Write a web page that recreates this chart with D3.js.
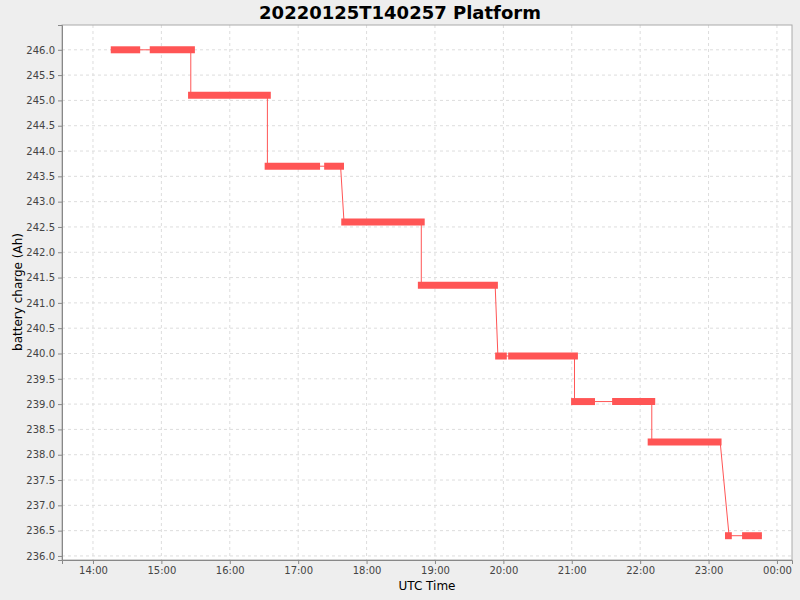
<!DOCTYPE html>
<html><head><meta charset="utf-8">
<script src="https://cdn.jsdelivr.net/npm/d3@7"></script>
<style>body{margin:0;background:#eeeeee}svg{display:block;font-family:"DejaVu Sans",sans-serif}</style>
</head><body><svg id="c" width="800" height="600"></svg>
<script>
// thick segments: start hour, end hour, value (Ah)
const segStart = [14.26,14.83,15.39,16.51,17.38,17.63,18.75,19.88,20.07,20.99,21.59,22.11,23.24,23.49];
const segEnd   = [14.69,15.49,16.60,17.32,17.67,18.85,19.92,20.05,21.09,21.34,22.22,23.19,23.34,23.78];
const segValue = [246.0,246.0,245.1,243.7,243.7,242.6,241.35,239.95,239.95,239.05,239.05,238.25,236.4,236.4];
// thin connecting line
const lineHours = [14.26,15.43,15.43,16.55,16.55,17.62,17.67,18.8,18.8,19.88,19.92,21.04,21.04,22.17,22.17,23.17,23.3,23.78];
const lineValues = [246,246,245.1,245.1,243.7,243.7,242.6,242.6,241.35,241.35,239.95,239.95,239.05,239.05,238.25,238.25,236.4,236.4];
const xTickHours = [14,15,16,17,18,19,20,21,22,23,24];
const xTickLabels = ["14:00","15:00","16:00","17:00","18:00","19:00","20:00","21:00","22:00","23:00","00:00"];
const yTicks = d3.range(236,246.01,0.5);

const svg = d3.select("#c");
const L=62,R=792,T=25,B=560;
const x = d3.scaleLinear().domain([13.547,24.22]).range([L,R]);
const y = d3.scaleLinear().domain([235.92,246.49]).range([B,T]);
svg.append("rect").attr("x",L).attr("y",T).attr("width",R-L).attr("height",B-T).attr("fill","#fff");
const g = svg.append("g");
g.selectAll(".gx").data(xTickHours).join("line").attr("x1",d=>x(d)).attr("x2",d=>x(d)).attr("y1",T).attr("y2",B)
 .attr("stroke","#ddd").attr("stroke-dasharray","3,3");
g.selectAll(".gy").data(yTicks).join("line").attr("y1",d=>y(d)).attr("y2",d=>y(d)).attr("x1",L).attr("x2",R)
 .attr("stroke","#ddd").attr("stroke-dasharray","3,3");
svg.append("rect").attr("x",L).attr("y",T).attr("width",R-L).attr("height",B-T).attr("fill","none").attr("stroke","#aaa");
const xa = svg.append("g").attr("transform",`translate(0,${B})`)
 .call(d3.axisBottom(x).tickValues(xTickHours).tickFormat((d,i)=>xTickLabels[i]).tickSize(4));
const ya = svg.append("g").attr("transform",`translate(${L},0)`)
 .call(d3.axisLeft(y).tickValues(yTicks).tickFormat(d3.format(".1f")).tickSize(4));
[xa,ya].forEach(a=>{a.select(".domain").attr("stroke","#888");a.selectAll(".tick line").attr("stroke","#888");
 a.selectAll("text").attr("font-size",10).attr("fill","#444").attr("font-family","DejaVu Sans");});
svg.append("path").datum(lineHours.map((h,i)=>[h,lineValues[i]]))
 .attr("d",d3.line().x(d=>x(d[0])).y(d=>y(d[1]))).attr("fill","none").attr("stroke","#ff5555").attr("stroke-width",1);
svg.selectAll(".seg").data(segValue).join("line")
 .attr("x1",(d,i)=>x(segStart[i])).attr("x2",(d,i)=>x(segEnd[i])).attr("y1",d=>y(d)).attr("y2",d=>y(d))
 .attr("stroke","#ff5555").attr("stroke-width",7);
svg.append("text").attr("x",400).attr("y",19).attr("text-anchor","middle").attr("font-size",18).attr("font-weight","bold").text("20220125T140257 Platform");
svg.append("text").attr("x",427).attr("y",590).attr("text-anchor","middle").attr("font-size",12).text("UTC Time");
svg.append("text").attr("transform","translate(22,292) rotate(-90)").attr("text-anchor","middle").attr("font-size",12).text("battery charge (Ah)");
</script></body></html>
